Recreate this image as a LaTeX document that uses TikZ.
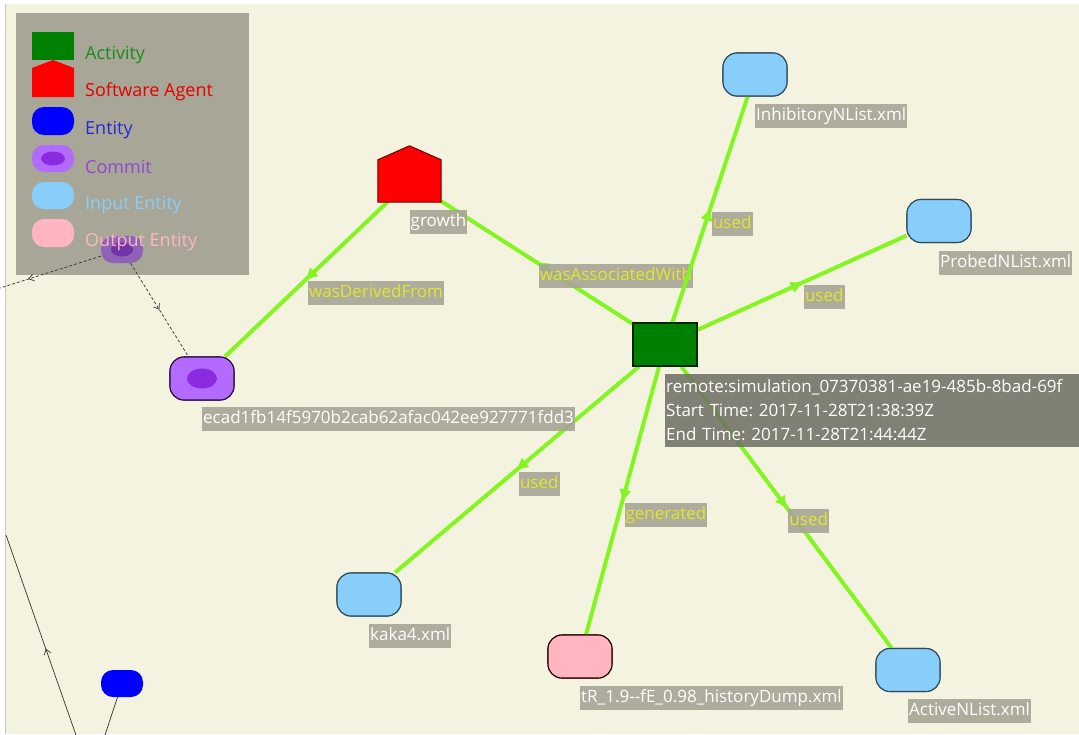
\documentclass[tikz,border=0pt]{standalone}
\usepackage{fontspec}
\setmainfont{Open Sans}
\usetikzlibrary{arrows.meta,decorations.markings}
\frenchspacing

\definecolor{canvas}{HTML}{F4F3DF}
\definecolor{frame}{HTML}{C9C8BC}
\definecolor{legendbg}{HTML}{A8A797}
\definecolor{tagbg}{HTML}{A6A596}
\definecolor{infobg}{HTML}{6E6D63}
\definecolor{tagtext}{HTML}{E4E62A}
\definecolor{link}{HTML}{84F520}
\definecolor{actgreen}{HTML}{008000}
\definecolor{agentred}{HTML}{FF0000}
\definecolor{entblue}{HTML}{0000FF}
\definecolor{commitout}{HTML}{B36BFF}
\definecolor{commitin}{HTML}{8A2BE2}
\definecolor{inblue}{HTML}{87CEFA}
\definecolor{outpink}{HTML}{FFB6C1}
\definecolor{edgeline}{HTML}{2F4A5A}
\definecolor{thinline}{HTML}{333333}

\begin{document}
\begin{tikzpicture}[x=1pt,y=-1pt,
  font=\fontsize{17}{20}\selectfont,
  % entity shapes
  entity/.style={rectangle,rounded corners=14pt,minimum width=64pt,minimum height=43pt,
                 inner sep=0pt,draw=edgeline,line width=1.1pt},
  inent/.style={entity,fill=inblue},
  outent/.style={entity,fill=outpink,draw=black!60!red!40!black},
  commitent/.style={entity,fill=commitout,draw=black!70!commitin},
  activity/.style={rectangle,minimum width=64pt,minimum height=43pt,inner sep=0pt,
                   fill=actgreen,draw=black!70!actgreen,line width=1.1pt},
  agentbody/.style={rectangle,minimum width=63pt,minimum height=42pt,inner sep=0pt},
  % text tags
  tag/.style={fill=tagbg,fill opacity=0.9,text opacity=1,text=white,inner xsep=1pt,
              inner ysep=2.5pt,text height=14pt,text depth=5pt},
  nodetag/.style={tag,anchor=north west},
  edgetag/.style={tag,text=tagtext,anchor=north west,pos=0.5},
  % connectors
  prov/.style={draw=link,line width=4pt,postaction={decorate},
               decoration={markings,mark=at position 0.5 with
                 {\arrow[link]{Triangle[length=11pt,width=11pt]}}}},
  thinlink/.style={draw=thinline,line width=0.7pt},
  legtext/.style={anchor=west,inner xsep=0pt,font=\fontsize{18}{20}\selectfont},
]
\useasboundingbox (0,0) rectangle (1079,734);
\fill[white] (0,0) rectangle (1079,734);
\fill[canvas] (6,4) rectangle (1079,734);
\draw[frame,line width=1pt] (5.5,4) -- (5.5,734);

% ---------------- nodes of the graph ----------------
\node[activity] (act) at (665,344.5) {};
\node[agentbody] (agent) at (409.5,181) {};
\node[commitent] (ecad) at (202,378.5) {};
\node[inent] (inh) at (755,74.5) {};
\node[inent] (probed) at (939,221) {};
\node[inent] (kaka) at (369,594.5) {};
\node[outent] (hist) at (580,656.5) {};
\node[inent] (active) at (908,670) {};
\node[rectangle,rounded corners=12pt,minimum width=42pt,minimum height=27pt,inner sep=0pt,
      fill=entblue] (blue) at (122,683.5) {};
\coordinate (offleft) at (0,288);
\coordinate (offlow) at (77,738);
\coordinate (offup) at (6,535);
\coordinate (offblue) at (104,738);

% ---------------- provenance connectors ----------------
\draw[prov] (agent) -- node[edgetag] {wasDerivedFrom} (ecad);
\draw[prov] (act) -- node[edgetag] {wasAssociatedWith} (agent);
\draw[prov] (act) -- node[edgetag] {used} (inh);
\draw[prov] (act) -- node[edgetag] {used} (probed);
\draw[prov] (act) -- node[edgetag] {used} (kaka);
\draw[prov] (act) -- node[edgetag] {generated} (hist);
\draw[prov] (act) -- node[edgetag] {used} (active);

% thin connectors of the neighbouring graph
\draw[thinlink] (offlow) -- (offup)
  [postaction={decorate},decoration={markings,mark=at position 0.44 with
     {\arrow[thinline]{Straight Barb[length=5pt,width=7pt]}}}];
\draw[thinlink] (blue) -- (offblue);

% redraw node faces above the connectors
\node[activity] at (act) {};
\fill[agentred,draw=black!60!red,line width=1pt]
  (agent.south west) -- (agent.north west) -- ([yshift=14pt]agent.north)
  -- (agent.north east) -- (agent.south east) -- cycle;
\node[commitent] at (ecad) {};
\fill[commitin] (ecad.center) ellipse (15pt and 10pt);
\node[inent] at (inh) {};
\node[inent] at (probed) {};
\node[inent] at (kaka) {};
\node[outent] at (hist) {};
\node[inent] at (active) {};

% ---------------- node captions ----------------
\node[nodetag] at ([yshift=-8pt]agent.south) {growth};
\node[nodetag] at ([yshift=-6pt]ecad.south) {ecad1fb14f5970b2cab62afac042ee927771fdd3};
\node[nodetag] at ([yshift=-7pt]inh.south) {InhibitoryNList.xml};
\node[nodetag] at ([yshift=-8pt]probed.south) {ProbedNList.xml};
\node[nodetag] at ([yshift=-7pt]kaka.south) {kaka4.xml};
\node[nodetag] at ([yshift=-7pt]hist.south) {tR\_1.9-{}-fE\_0.98\_historyDump.xml};
\node[nodetag] at ([yshift=-7pt]active.south) {ActiveNList.xml};
\node[anchor=north west,fill=infobg,fill opacity=0.85,text opacity=1,text=white,
      inner xsep=1pt,inner ysep=6pt,text width=440pt,align=left,
      font=\fontsize{17}{24}\selectfont]
  (info) at ([yshift=-7pt]act.south) {remote:simulation\_07370381-ae19-485b-8bad-69f\\
  Start Time: 2017-11-28T21:38:39Z\\End Time: 2017-11-28T21:44:44Z};

% ---------------- legend ----------------
\fill[legendbg] (16,13) rectangle (249,275);
\fill[actgreen] (32,32) rectangle (74,60);
\fill[agentred] (32,97) -- (32,68) -- (53,60) -- (74,68) -- (74,97) -- cycle;
\fill[entblue,rounded corners=12pt] (32,107) rectangle (74,135);
\fill[commitout,rounded corners=12pt] (32,145) rectangle (74,172);
\fill[commitin] (53,158.5) ellipse (12pt and 7pt);
\fill[inblue,rounded corners=12pt] (32,182) rectangle (74,209);
\fill[outpink,rounded corners=12pt] (32,219) rectangle (74,247);

% commit node of the neighbouring graph, shown under the legend labels
\node[rectangle,rounded corners=12pt,minimum width=42pt,minimum height=27pt,inner sep=0pt,
      fill=black!25!commitout!80!legendbg] (smc) at (122,249.5) {};
\fill[black!25!commitin!85!legendbg] (smc.center) ellipse (11pt and 7pt);
\draw[thinlink,densely dashed] (smc) -- (offleft)
  [postaction={decorate},decoration={markings,mark=at position 0.72 with
     {\arrow[thinline]{Straight Barb[length=5pt,width=7pt]}}}];
\draw[thinlink,densely dashed] (smc) -- (ecad)
  [postaction={decorate},decoration={markings,mark=at position 0.5 with
     {\arrow[thinline]{Straight Barb[length=5pt,width=7pt]}}}];

\node[legtext,text=actgreen!90!white] at (85,55) {Activity};
\node[legtext,text=agentred!90!black] at (85,92) {Software Agent};
\node[legtext,text=entblue!80!black!85!white] at (85,130) {Entity};
\node[legtext,text=commitin!90!black!85!white] at (85,167) {Commit};
\node[legtext,text=inblue] at (85,205) {Input Entity};
\node[legtext,text=outpink] at (85,242) {Output Entity};
\end{tikzpicture}
\end{document}
